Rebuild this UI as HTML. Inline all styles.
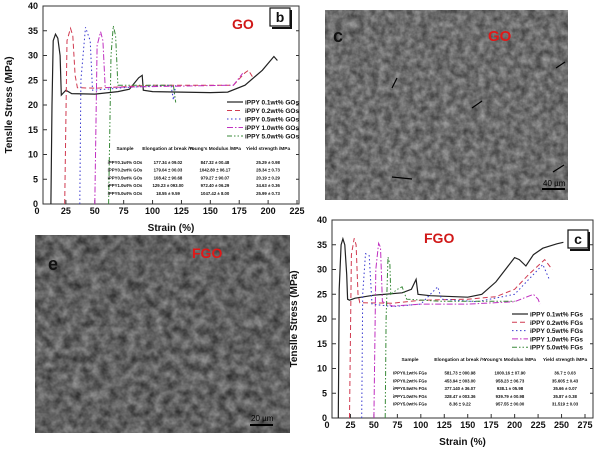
<!DOCTYPE html>
<html><head><meta charset="utf-8">
<style>
html,body{margin:0;padding:0;background:#fff;}
body{width:600px;height:450px;overflow:hidden;font-family:"Liberation Sans",sans-serif;}
svg text{font-family:"Liberation Sans",sans-serif;}
</style></head>
<body>
<svg id="fig" width="600" height="450" viewBox="0 0 600 450" xmlns="http://www.w3.org/2000/svg">
<defs>
<filter id="semA" x="0" y="0" width="100%" height="100%" color-interpolation-filters="sRGB">
<feTurbulence type="fractalNoise" baseFrequency="0.14" numOctaves="3" seed="3"/>
<feColorMatrix type="matrix" values="0.45 0 0 0 0.2  0.45 0 0 0 0.2  0.45 0 0 0 0.2  0 0 0 0 1"/>
</filter>
<filter id="semB" x="0" y="0" width="100%" height="100%" color-interpolation-filters="sRGB">
<feTurbulence type="fractalNoise" baseFrequency="0.11" numOctaves="3" seed="7"/>
<feColorMatrix type="matrix" values="0.5 0 0 0 0.13  0.5 0 0 0 0.13  0.5 0 0 0 0.13  0 0 0 0 1"/>
</filter>
</defs>

<!-- SEM image c -->
<g>
<rect x="325" y="10" width="243" height="190" fill="#6c6c6c" filter="url(#semA)"/>
<text x="333" y="42" font-family="Liberation Serif,serif" font-weight="bold" font-size="18" fill="#111">c</text>
<text x="488" y="41" font-weight="bold" font-size="15" fill="#e01818">GO</text>
<line x1="542" y1="189" x2="565" y2="189" stroke="#000" stroke-width="2"/>
<text x="543" y="186" font-family="Liberation Serif,serif" font-size="8" fill="#000">40 µm</text>
<g stroke="#000" stroke-width="1.2">
<line x1="392" y1="88" x2="397" y2="78"/><line x1="472" y1="108" x2="482" y2="101"/><line x1="556" y1="68" x2="565" y2="62"/><line x1="553" y1="172" x2="564" y2="165"/><line x1="412" y1="179" x2="392" y2="177"/>
</g>
</g>

<!-- SEM image e -->
<g>
<rect x="35" y="235" width="255" height="198" fill="#5f5f5f" filter="url(#semB)"/>
<text x="48" y="270" font-family="Liberation Serif,serif" font-weight="bold" font-size="18" fill="#111">e</text>
<text x="192" y="258" font-weight="bold" font-size="14" fill="#e01818">FGO</text>
<line x1="250" y1="425" x2="273" y2="425" stroke="#000" stroke-width="2"/>
<text x="251" y="421" font-family="Liberation Serif,serif" font-size="8" fill="#000">20 µm</text>
</g>

<g id="chartTop"></g>
<g id="chartBot"></g>
</svg>

<script>
// ---------- data: top chart (GO) ----------
const goLegend = ["iPPY 0.1wt% GOs","iPPY 0.2wt% GOs","iPPY 0.5wt% GOs","iPPY 1.0wt% GOs","iPPY 5.0wt% GOs"];
const goS1 = [[12,0],[13,20],[14,33],[16,34.3],[18,33.5],[20,30],[21,22],[23,22.5],[25,23],[30,22.3],[50,22.2],[70,22.7],[80,23.2],[88,25.5],[91,26],[92,23],[100,22.7],[150,22.5],[165,22.6],[180,24],[195,27],[205,29.8],[208,29]];
const goS2 = [[24,0],[26,33],[29,35.5],[31,34],[33,26],[35,23.5],[50,23.4],[100,24],[150,24],[170,24],[180,26.5],[183,27],[187,25.5]];
const goS3 = [[37,0],[38,25],[42,35.7],[46,33],[48,23],[60,23.2],[80,23.6],[100,23.8],[116,24],[118,21],[120,24]];
const goS4 = [[50,0],[52,32],[55,34.8],[57,33],[59,23.5],[70,23.6],[120,23.8],[170,24],[178,26.4]];
const goS5 = [[62,0],[64,30],[66,36],[68,34],[70,24],[100,24],[118,24],[120,20.5]];
const goTicksX = [0,25,50,75,100,125,150,175,200,225];
const goTicksY = [0,5,10,15,20,25,30,35,40];
const goTable = [["Sample","Elongation at break /%","Young's Modulus /MPa","Yield strength /MPa"],
["iPPY0.1wt% GOs","177.34 ± 09.02","847.32 ± 00.48","25.29 ± 0.98"],
["iPPY0.2wt% GOs","179.04 ± 00.03","1042.80 ± 06.17","28.34 ± 0.73"],
["iPPY0.5wt% GOs","108.42 ± 90.68","979.27 ± 90.07","20.19 ± 0.29"],
["iPPY1.0wt% GOs","129.23 ± 093.00","972.40 ± 06.29","34.63 ± 0.36"],
["iPPY5.0wt% GOs","18.55 ± 9.59","1047.42 ± 8.00","25.99 ± 0.73"]];

// ---------- data: bottom chart (FGO) ----------
const fgoLegend = ["iPPY 0.1wt% FGs","iPPY 0.2wt% FGs","iPPY 0.5wt% FGs","iPPY 1.0wt% FGs","iPPY 5.0wt% FGs"];
const fgoS1 = [[12,0],[13,26],[15,35],[17,36.2],[19,35],[21,29],[22,24],[24,23.8],[30,24.2],[50,24.8],[80,25.3],[90,26],[95,28],[97,25],[110,24.7],[150,24.4],[165,25],[180,27.5],[200,32.4],[205,32],[212,30.7],[220,33],[230,34.3],[245,35.2],[252,35.5]];
const fgoS2 = [[24,0],[26,33],[29,36.3],[31,35],[33,25],[35,23.3],[70,23.2],[100,23.8],[150,24],[180,24.5],[200,26],[215,29],[232,32],[240,30]];
const fgoS3 = [[37,0],[38,25],[41,33.2],[45,32.8],[48,23],[70,22.5],[100,23],[118,26.5],[122,24],[160,23.5],[200,25],[220,29],[230,31],[237,28]];
const fgoS4 = [[50,0],[52,30],[55,35.3],[57,34.5],[59,23.5],[70,22.6],[100,23],[150,23],[200,23.5],[220,25],[225,24],[227,23]];
const fgoS5 = [[62,0],[63,20],[65,32.5],[67,31],[68,25],[75,26],[80,26.5],[85,24],[120,23.6],[200,23.6]];
const fgoTicksX = [0,25,50,75,100,125,150,175,200,225,250,275];
const fgoTicksY = [0,5,10,15,20,25,30,35,40];
const fgoTable = [["Sample","Elongation at break /%","Young's Modulus /MPa","Yield strength /MPa"],
["iPPY0.1wt% FGs","581.73 ± 000.98","1000.16 ± 07.90","36.7 ± 0.03"],
["iPPY0.2wt% FGs","453.94 ± 003.00","958.23 ± 06.73","35.605 ± 0.43"],
["iPPY0.5wt% FGs","377.140 ± 36.07","938.1 ± 05.98","35.66 ± 0.07"],
["iPPY1.0wt% FGs","328.47 ± 003.36","939.79 ± 00.98","35.87 ± 0.38"],
["iPPY5.0wt% FGs","8.36 ± 9.22","957.55 ± 00.00","31.519 ± 0.03"]];

const styles = [
 {c:"#222",d:"",w:1.2},
 {c:"#d03a50",d:"5,3",w:1},
 {c:"#3a3ad0",d:"1.5,2.5",w:1},
 {c:"#c030c0",d:"6,2,1.5,2",w:1},
 {c:"#3a8a3a",d:"5,2,1.5,2,1.5,2",w:1}
];
const NS="http://www.w3.org/2000/svg";
function mk(p,tag,attrs){const e=document.createElementNS(NS,tag);for(const k in attrs)e.setAttribute(k,attrs[k]);p.appendChild(e);return e;}

function drawChart(g,cfg){
 const sx=v=>cfg.x0+(v-cfg.xmin)/(cfg.xmax-cfg.xmin)*(cfg.x1-cfg.x0);
 const sy=v=>cfg.y0-(v/40)*(cfg.y0-cfg.y1);
 const frame=mk(g,"rect",{x:cfg.fl,y:cfg.y1,width:cfg.fr-cfg.fl,height:cfg.y0-cfg.y1,fill:"none",stroke:"#333","stroke-width":1});
 
 
 cfg.tx.forEach(t=>{
  const x=sx(t);
  if(x>=cfg.fl-0.5&&x<=cfg.fr+0.5){const l=mk(g,"line",{x1:x,y1:cfg.y0,x2:x,y2:cfg.y0-4,stroke:"#333"});}
  const tl=mk(g,"text",{x:x,y:cfg.y0+10,"text-anchor":"middle","font-size":9,"font-weight":"bold",fill:"#111"});
  tl.textContent=t;
  
  
 });
 cfg.ty.forEach(t=>{
  const y=sy(t);
  const l=mk(g,"line",{x1:cfg.fl,y1:y,x2:cfg.fl+4,y2:y,stroke:"#333"});
  
  
  const r=mk(g,"line",{x1:cfg.fr,y1:y,x2:cfg.fr-3,y2:y,stroke:"#333"});
  
  
  const tl=mk(g,"text",{x:cfg.fl-5,y:y+3,"text-anchor":"end","font-size":9,"font-weight":"bold",fill:"#111"});
  tl.textContent=t;
  
  
 });
 const xt=mk(g,"text",{x:(cfg.fl+cfg.fr)/2,y:cfg.y0+27,"text-anchor":"middle","font-size":10,"font-weight":"bold",fill:"#111"});
 xt.textContent="Strain (%)";
 
 
 const yc=(cfg.y0+cfg.y1)/2;
 const yt=mk(g,"text",{x:cfg.ytx,y:yc,"text-anchor":"middle","font-size":10,"font-weight":"bold",fill:"#111",transform:"rotate(-90 "+cfg.ytx+" "+yc+")"});
 yt.textContent="Tenslle Stress (MPa)";
 
 
 cfg.series.forEach((s,i)=>{
  const st=styles[i];
  const p=mk(g,"polyline",{points:s.map(q=>sx(q[0]).toFixed(1)+","+sy(q[1]).toFixed(1)).join(" "),fill:"none",stroke:st.c,"stroke-width":st.w,"stroke-dasharray":st.d});
  
  
 });
 cfg.legend.forEach((name,i)=>{
  const y=cfg.ly+i*cfg.lstep, st=styles[i];
  const l=mk(g,"line",{x1:cfg.lx,y1:y,x2:cfg.lx+16,y2:y,stroke:st.c,"stroke-width":st.w,"stroke-dasharray":st.d});
  
  
  const t=mk(g,"text",{x:cfg.lx+18,y:y+2.5,"font-size":6.5,"font-weight":"bold","font-family":"Liberation Serif,serif",fill:"#111"});
  t.textContent=name;
  
  
 });
 cfg.table.forEach((row,r)=>{
  row.forEach((cell,c)=>{
   const t=mk(g,"text",{x:cfg.tcols[c],y:cfg.ty0+r*cfg.tstep+(r>0?6:0),"text-anchor":"middle","font-size":r==0?4.8:4.3,"font-weight":"bold","font-family":"Liberation Serif,serif",fill:"#111"});
   t.textContent=cell;
   
   
  });
 });
 const lab=mk(g,"text",{x:cfg.labx,y:cfg.laby,"font-size":14,"font-weight":"bold",fill:"#d01818"});
 lab.textContent=cfg.label;
 
 
 const bx=mk(g,"rect",{x:cfg.bx,y:cfg.by,width:20,height:18,fill:"#fff",stroke:"#111","stroke-width":1.2});
 
 
 const sh=mk(g,"path",{d:`M${cfg.bx+21} ${cfg.by+2} V${cfg.by+20} H${cfg.bx+2}`,fill:"none",stroke:"#111","stroke-width":2});
 
 
 const bl=mk(g,"text",{x:cfg.bx+10,y:cfg.by+14,"text-anchor":"middle","font-size":14,"font-weight":"bold",fill:"#111"});
 bl.textContent=cfg.letter;
 
 
}

drawChart(document.getElementById("chartTop"),{
 xmin:0,xmax:225,x0:37,x1:297,fl:43,fr:299,y0:204,y1:6,ytx:12,
 tx:goTicksX,ty:goTicksY,series:[goS1,goS2,goS3,goS4,goS5],legend:goLegend,
 lx:227,ly:102,lstep:8.5,table:goTable,tcols:[125,168,215,268],ty0:150,tstep:7.8,
 label:"GO",labx:232,laby:29,bx:270,by:8,letter:"b"});
drawChart(document.getElementById("chartBot"),{
 xmin:0,xmax:275,x0:327,x1:585,fl:332,fr:593,y0:418,y1:220,ytx:297,
 tx:fgoTicksX,ty:fgoTicksY,series:[fgoS1,fgoS2,fgoS3,fgoS4,fgoS5],legend:fgoLegend,
 lx:512,ly:314,lstep:8.3,table:fgoTable,tcols:[410,460,510,565],ty0:361,tstep:7.7,
 label:"FGO",labx:424,laby:243,bx:568,by:230,letter:"c"});
</script>
</body></html>
